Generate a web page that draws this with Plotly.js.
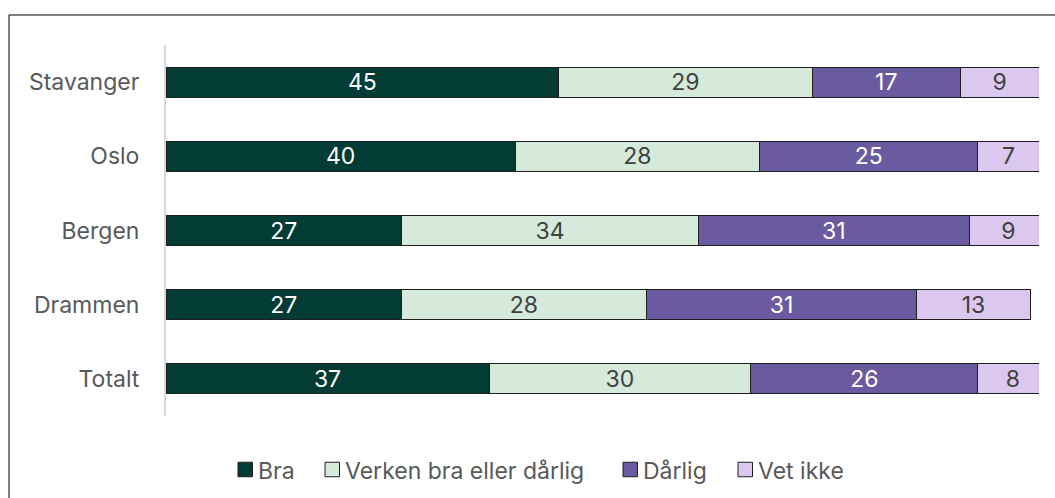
<!DOCTYPE html>
<html><head><meta charset="utf-8">
<script src="https://cdn.plot.ly/plotly-3.0.1.min.js"></script>
<style>html,body{margin:0;padding:0;background:#fff}#c{width:1055px;height:498px}</style>
</head><body><div id="c"></div>
<script>
const categories = ["Stavanger", "Oslo", "Bergen", "Drammen", "Totalt"];
const bra = [45, 40, 27, 27, 37];
const verken = [29, 28, 34, 28, 30];
const darlig = [17, 25, 31, 31, 26];
const vetIkke = [9, 7, 9, 13, 8];
const seriesNames = ["Bra", "Verken bra eller dårlig", "Dårlig", "Vet ikke"];
const colors = ["#033b35", "#d6eadc", "#6a5a9f", "#dcc8ef"];
const textColors = ["#ffffff", "#404040", "#ffffff", "#404040"];
const seriesValues = [bra, verken, darlig, vetIkke];

const W = 1055, H = 498, M = {l: 166, r: 16, t: 45, b: 82};
const PW = W - M.l - M.r, PH = H - M.t - M.b;
const px2x = p => (p - M.l) / PW;
const px2y = p => 1 - (p - M.t) / PH;

const traces = seriesValues.map((vals, i) => ({
  type: "bar", orientation: "h",
  y: categories, x: vals, name: seriesNames[i],
  marker: {color: colors[i], line: {color: "#1f1f1f", width: 1}},
  text: vals.map(String), textposition: "inside", insidetextanchor: "middle", textangle: 0,
  textfont: {family: "Inter, sans-serif", size: 23, color: textColors[i]},
  constraintext: "none", hoverinfo: "skip", showlegend: false
}));

// custom legend (square + label), positioned in pixels
const legendSquares = [238, 325, 623, 738];
const legendY = 469.5, sq = 14.5;
const shapes = [{type: "rect", xref: "paper", yref: "paper", x0: px2x(9), x1: px2x(1100), y0: px2y(560), y1: px2y(15),
            line: {color: "#000", width: 1}, fillcolor: "rgba(0,0,0,0)", layer: "below"}];
const annotations = [];
seriesNames.forEach((n, i) => {
  const x0 = legendSquares[i];
  shapes.push({type: "rect", xref: "paper", yref: "paper",
    x0: px2x(x0), x1: px2x(x0 + sq), y0: px2y(legendY + sq / 2), y1: px2y(legendY - sq / 2),
    fillcolor: colors[i], line: {color: "#1f1f1f", width: 1}});
  annotations.push({xref: "paper", yref: "paper", x: px2x(x0 + sq + 3), y: px2y(legendY + 1),
    xanchor: "left", yanchor: "middle", showarrow: false, text: n,
    font: {family: "Inter, sans-serif", size: 23, color: "#595959"}});
});

const layout = {
  width: W, height: H, margin: M,
  barmode: "stack", bargap: 0.595,
  paper_bgcolor: "#fff", plot_bgcolor: "#fff",
  font: {family: "Inter, sans-serif", color: "#595959", size: 23},
  xaxis: {range: [0, 100], visible: false, fixedrange: true},
  yaxis: {autorange: "reversed", showline: true, linecolor: "#d9d9d9", linewidth: 2,
          ticks: "", ticklabelstandoff: 20, tickfont: {size: 23, color: "#595959"}, showgrid: false},
  showlegend: false,
  shapes: shapes, annotations: annotations
};
Plotly.newPlot("c", traces, layout, {displayModeBar: false, staticPlot: true});
</script></body></html>
